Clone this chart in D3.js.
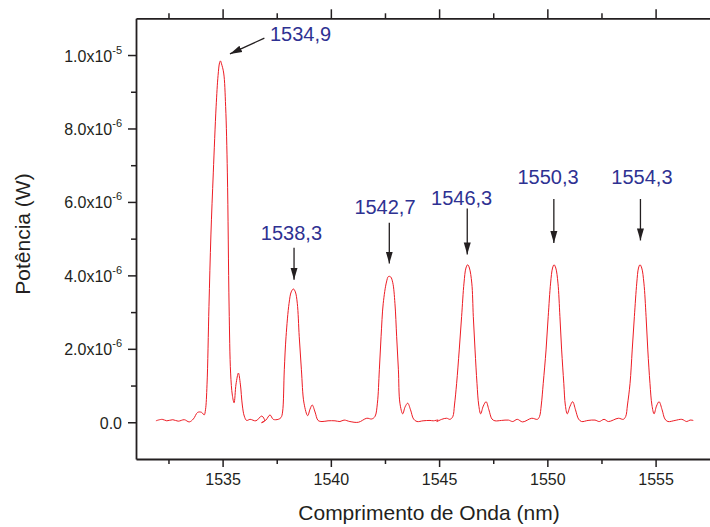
<!DOCTYPE html>
<html>
<head>
<meta charset="utf-8">
<script src="https://cdn.jsdelivr.net/npm/d3@7"></script>
<style>
  body { margin: 0; background: #fff; }
  svg { display: block; font-family: "Liberation Sans", Arial, Helvetica, sans-serif; }
  .axis path, .axis line { stroke: #231f20; }
  .axis text { fill: #231f20; }
</style>
</head>
<body>
<div id="chart"></div>
<script>
// spectrum: wavelength (nm) and power (in 1e-6 W)
var wavelength = [
  1531.92, 1532.21, 1532.42, 1532.70, 1532.95, 1533.23, 1533.46, 1533.65, 1533.85, 1534.03,
  1534.15, 1534.21, 1534.28, 1534.37, 1534.46, 1534.57, 1534.70, 1534.79, 1534.86, 1534.90,
  1534.95, 1535.05, 1535.14, 1535.22, 1535.30, 1535.37, 1535.45, 1535.53, 1535.62, 1535.73,
  1535.82, 1535.91, 1536.00, 1536.11, 1536.27, 1536.54, 1536.81, 1536.94, 1536.80, 1537.00,
  1537.19, 1537.34, 1537.57, 1537.70, 1537.77, 1537.85, 1537.93, 1538.07, 1538.17, 1538.27,
  1538.36, 1538.45, 1538.54, 1538.64, 1538.76, 1538.93, 1539.04, 1539.14, 1539.27, 1539.41,
  1539.59, 1539.87, 1540.19, 1540.42, 1540.61, 1540.88, 1541.27, 1541.66, 1541.89, 1542.04,
  1542.15, 1542.24, 1542.32, 1542.42, 1542.57, 1542.66, 1542.76, 1542.86, 1542.96, 1543.04,
  1543.12, 1543.19, 1543.32, 1543.43, 1543.55, 1543.68, 1543.82, 1543.98, 1544.26, 1544.58,
  1544.73, 1544.96, 1544.89, 1545.12, 1545.35, 1545.50, 1545.63, 1545.71, 1545.81, 1545.93,
  1546.04, 1546.15, 1546.24, 1546.32, 1546.40, 1546.51, 1546.58, 1546.66, 1546.75, 1546.83,
  1546.92, 1547.04, 1547.17, 1547.30, 1547.44, 1547.58, 1547.88, 1548.20, 1548.40, 1548.61,
  1548.86, 1549.28, 1549.54, 1549.64, 1549.72, 1549.81, 1549.94, 1550.04, 1550.15, 1550.24,
  1550.31, 1550.39, 1550.49, 1550.58, 1550.66, 1550.76, 1550.83, 1550.92, 1551.05, 1551.17,
  1551.30, 1551.44, 1551.58, 1551.88, 1552.20, 1552.40, 1552.62, 1552.82, 1553.28, 1553.51,
  1553.62, 1553.70, 1553.82, 1553.92, 1554.02, 1554.13, 1554.21, 1554.28, 1554.36, 1554.46,
  1554.56, 1554.64, 1554.74, 1554.83, 1554.93, 1555.04, 1555.16, 1555.30, 1555.43, 1555.57,
  1555.90, 1556.21, 1556.44, 1556.59, 1556.74
];
var power = [
  0.04, 0.08, 0.04, 0.07, 0.03, 0.07, 0.01, 0.09, 0.27, 0.27,
  0.20, 0.34, 1.02, 3.15, 5.10, 6.79, 8.59, 9.44, 9.79, 9.84,
  9.76, 9.51, 8.60, 6.79, 3.14, 1.34, 0.74, 0.53, 1.04, 1.34,
  1.04, 0.47, 0.17, 0.05, 0.08, 0.04, 0.17, 0.04, -0.01, 0.06,
  0.20, 0.08, 0.08, 0.13, 0.28, 1.43, 2.33, 3.24, 3.55, 3.63,
  3.55, 3.24, 2.33, 1.43, 0.52, 0.18, 0.36, 0.47, 0.28, 0.05,
  0.02, 0.04, 0.04, 0.02, 0.06, 0.02, 0.00, 0.11, 0.09, 0.16,
  0.52, 1.43, 2.33, 3.24, 3.82, 3.97, 3.96, 3.80, 3.24, 2.33,
  1.43, 0.52, 0.23, 0.42, 0.52, 0.34, 0.09, 0.02, 0.04, 0.05,
  0.04, 0.06, 0.02, 0.08, 0.11, 0.08, 0.15, 0.47, 1.06, 1.97,
  2.88, 3.79, 4.20, 4.29, 4.20, 3.79, 2.88, 1.97, 1.06, 0.47,
  0.23, 0.44, 0.56, 0.34, 0.09, 0.04, 0.05, 0.06, 0.02, 0.08,
  0.01, 0.11, 0.08, 0.16, 0.47, 1.06, 1.97, 2.88, 3.79, 4.20,
  4.29, 4.20, 3.79, 2.88, 1.97, 1.06, 0.47, 0.23, 0.44, 0.56,
  0.34, 0.09, 0.02, 0.05, 0.06, 0.02, 0.08, 0.02, 0.11, 0.08,
  0.16, 0.47, 1.06, 1.97, 2.88, 3.79, 4.20, 4.29, 4.20, 3.79,
  2.88, 1.97, 1.06, 0.47, 0.23, 0.44, 0.56, 0.34, 0.09, 0.02,
  0.05, 0.08, 0.02, 0.06, 0.05
];

// axis ticks
var xMajorTicks = [1535, 1540, 1545, 1550, 1555];
var xMinorTicks = [1532.5, 1537.5, 1542.5, 1547.5, 1552.5];
var yMajorTicks = [0, 2, 4, 6, 8, 10];
var yMinorTicks = [1, 3, 5, 7, 9];

// peak labels, label anchor (nm, 1e-6 W), arrow start and arrow tip
var peakLabels = ["1534,9", "1538,3", "1542,7", "1546,3", "1550,3", "1554,3"];
var labelX = [1538.60, 1538.18, 1542.50, 1546.04, 1550.03, 1554.37];
var labelY = [10.37, 4.96, 5.67, 5.92, 6.49, 6.49];
var arrowX0 = [1536.93, 1538.3, 1542.7, 1546.3, 1550.3, 1554.3];
var arrowY0 = [10.46, 4.75, 5.43, 5.82, 6.08, 6.08];
var arrowX1 = [1535.34, 1538.3, 1542.7, 1546.3, 1550.3, 1554.3];
var arrowY1 = [10.03, 3.88, 4.32, 4.57, 4.88, 4.95];

var width = 710, height = 527;
var margin = {top: 18.3, left: 136, bottom: 68};

var svg = d3.select("#chart").append("svg")
    .attr("width", width)
    .attr("height", height);

var x = d3.scaleLinear()
    .domain([1531, 1558])
    .range([margin.left, margin.left + 27 * 21.65]);

var y = d3.scaleLinear()
    .domain([-1, 11])
    .range([height - margin.bottom, margin.top]);

function yLabel(sel) {
  sel.each(function(v) {
    var t = d3.select(this).text(null);
    if (v === 0) { t.text("0.0"); return; }
    var e = Math.floor(Math.log10(v) + 1e-9);
    var m = v / Math.pow(10, e);
    t.append("tspan").text(m.toFixed(1) + "x10");
    t.append("tspan").attr("dy", "-8").attr("font-size", 11).text(e - 6);
  });
}

function minor(g) {
  g.select(".domain").remove();
}

var xBottom = "translate(0," + y(-1) + ")",
    xTop = "translate(0," + y(11) + ")",
    yLeft = "translate(" + x(1531) + ",0)";

// bottom axis
svg.append("g").attr("class", "axis minor").attr("transform", xBottom)
    .call(d3.axisBottom(x).tickValues(xMinorTicks).tickSize(5).tickFormat(""))
    .call(minor);
var bottomAxis = svg.append("g").attr("class", "axis").attr("transform", xBottom)
    .call(d3.axisBottom(x).tickValues(xMajorTicks).tickSize(8).tickSizeOuter(0).tickPadding(6).tickFormat(d3.format("d")));

// top axis, no labels
svg.append("g").attr("class", "axis minor").attr("transform", xTop)
    .call(d3.axisTop(x).tickValues(xMinorTicks).tickSize(5).tickFormat(""))
    .call(minor);
svg.append("g").attr("class", "axis").attr("transform", xTop)
    .call(d3.axisTop(x).tickValues(xMajorTicks).tickSize(9).tickSizeOuter(0).tickFormat(""));

// left axis
svg.append("g").attr("class", "axis minor").attr("transform", yLeft)
    .call(d3.axisLeft(y).tickValues(yMinorTicks).tickSize(5).tickFormat(""))
    .call(minor);
var leftAxis = svg.append("g").attr("class", "axis").attr("transform", yLeft)
    .call(d3.axisLeft(y).tickValues(yMajorTicks).tickSize(8).tickSizeOuter(0).tickPadding(6));

svg.selectAll(".axis .domain").attr("stroke-width", 1.8);
svg.selectAll(".axis line").attr("stroke-width", 1.5);
svg.selectAll(".axis").attr("font-size", 16).attr("font-family", "Liberation Sans, Arial, sans-serif");
bottomAxis.selectAll(".tick text").attr("dy", "0.72em");
leftAxis.selectAll(".tick text").attr("dy", null).attr("y", 6).call(yLabel);

// spectrum
var pts = wavelength.map(function(d, i) { return [d, power[i]]; });
var line = d3.line()
    .x(function(d) { return x(d[0]); })
    .y(function(d) { return y(d[1]); })
    .curve(d3.curveCatmullRom.alpha(0.5));

svg.append("path")
    .datum(pts)
    .attr("fill", "none")
    .attr("stroke", "#ed1c24")
    .attr("stroke-width", 1)
    .attr("d", line);

// arrows
svg.append("defs").append("marker")
    .attr("id", "head")
    .attr("markerUnits", "userSpaceOnUse")
    .attr("viewBox", "0 0 12 8")
    .attr("markerWidth", 12)
    .attr("markerHeight", 8)
    .attr("refX", 12)
    .attr("refY", 4)
    .attr("orient", "auto")
  .append("path")
    .attr("d", "M0,0.5L12,4L0,7.5Z")
    .attr("fill", "#231f20");

svg.selectAll(".arrow")
    .data(peakLabels)
  .enter().append("line")
    .attr("class", "arrow")
    .attr("x1", function(d, i) { return x(arrowX0[i]); })
    .attr("y1", function(d, i) { return y(arrowY0[i]); })
    .attr("x2", function(d, i) { return x(arrowX1[i]); })
    .attr("y2", function(d, i) { return y(arrowY1[i]); })
    .attr("stroke", "#231f20")
    .attr("stroke-width", 1.3)
    .attr("marker-end", "url(#head)");

svg.selectAll(".peak-label")
    .data(peakLabels)
  .enter().append("text")
    .attr("class", "peak-label")
    .attr("x", function(d, i) { return x(labelX[i]); })
    .attr("y", function(d, i) { return y(labelY[i]); })
    .attr("text-anchor", "middle")
    .attr("font-size", 20)
    .attr("fill", "#2e3192")
    .text(function(d) { return d; });

// axis titles
svg.append("text")
    .attr("x", 429)
    .attr("y", 520)
    .attr("text-anchor", "middle")
    .attr("font-size", 21)
    .attr("fill", "#231f20")
    .text("Comprimento de Onda (nm)");

svg.append("text")
    .attr("transform", "translate(30,234) rotate(-90)")
    .attr("text-anchor", "middle")
    .attr("font-size", 21)
    .attr("fill", "#231f20")
    .text("Potência (W)");
</script>
</body>
</html>
